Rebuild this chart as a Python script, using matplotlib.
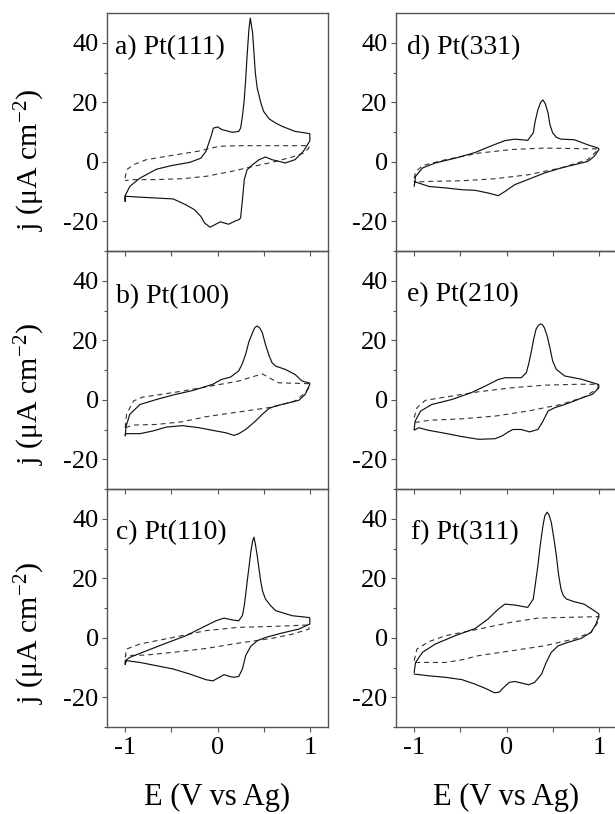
import matplotlib
matplotlib.use("Agg")
import matplotlib.pyplot as plt
from matplotlib.ticker import FixedLocator

plt.rcParams['font.family'] = ['Liberation Serif', 'DejaVu Serif']
plt.rcParams['mathtext.fontset'] = 'custom'
plt.rcParams['mathtext.rm'] = 'Liberation Serif'
plt.rcParams['mathtext.it'] = 'Liberation Serif:italic'
plt.rcParams['axes.unicode_minus'] = False

# ---------------- data ----------------
labels = ["a) Pt(111)", "b) Pt(100)", "c) Pt(110)",
          "d) Pt(331)", "e) Pt(210)", "f) Pt(311)"]
x_label = "E (V vs Ag)"
y_label = "j (\u03bcA cm$^{-2}$)"
y_ticks = [-20, 0, 20, 40]
x_ticks = [-1, 0, 1]

# a) Pt(111)
a_sol_x = [-1.0, -1.0, -0.95, -0.84, -0.66, -0.5, -0.3, -0.18, -0.125, -0.07, -0.045, 0.0, 0.05, 0.16,
           0.23, 0.25, 0.27, 0.29, 0.305, 0.32, 0.34, 0.355, 0.38, 0.395, 0.41, 0.43, 0.47, 0.50,
           0.56, 0.63, 0.70, 0.84, 0.97, 1.0,
           1.0, 0.97, 0.93, 0.84, 0.735, 0.59, 0.52, 0.45, 0.38, 0.32, 0.29, 0.27, 0.25, 0.23, 0.2,
           0.12, 0.03, -0.08, -0.14, -0.18, -0.25, -0.34, -0.48, -0.66, -0.84, -1.0, -1.0]
a_sol_j = [-13.3, -11.4, -8.3, -5.5, -2.5, -1.3, -0.2, 1.2, 3.5, 8.5, 11.3, 11.7, 10.8, 9.9,
           10.2, 11.3, 15.3, 20.9, 27.6, 35.4, 44.4, 48.3, 43.3, 36.6, 29.8, 24.8, 19.7, 16.9,
           14.4, 13.0, 11.9, 10.2, 9.6, 9.4,
           7.0, 5.5, 3.5, 0.7, -0.4, 0.7, 1.6, 0.7, -1.0, -2.7, -6.0, -12.8, -18.9, -19.5, -19.8,
           -21.0, -20.2, -22.0, -20.6, -18.4, -16.1, -14.5, -12.5, -12.2, -11.9, -11.6, -13.3]
a_dash_x = [-1.0, -0.985, -0.91, -0.77, -0.48, -0.2, 0.02, 0.23, 0.59, 0.99,
            0.99, 0.93, 0.81, 0.59, 0.38, 0.16, -0.125, -0.38, -0.66, -0.91, -1.0]
a_dash_j = [-5.5, -2.7, -1.0, 0.7, 2.2, 3.6, 5.2, 5.4, 5.4, 5.4,
            4.6, 2.9, 1.6, -0.2, -1.6, -3.2, -4.9, -5.7, -6.0, -6.0, -6.3]

# b) Pt(100)
b_sol_x = [-1.0, -0.99, -0.95, -0.84, -0.66, -0.48, -0.27, -0.05, 0.04, 0.14, 0.23, 0.27, 0.305,
           0.34, 0.38, 0.405, 0.43, 0.455, 0.485, 0.52, 0.56, 0.59, 0.63, 0.735, 0.84, 0.915,
           0.99, 1.0,
           1.0, 0.95, 0.88, 0.735, 0.63, 0.56, 0.485, 0.41, 0.305, 0.23, 0.18, 0.09, -0.05,
           -0.2, -0.38, -0.555, -0.70, -0.84, -0.985, -1.0]
b_sol_j = [-12.2, -8.9, -4.9, -1.6, 0.1, 1.6, 3.1, 5.2, 6.8, 7.6, 9.7, 12.2, 15.3,
           19.5, 22.6, 24.3, 24.8, 24.2, 22.6, 18.5, 14.7, 12.5, 11.3, 10.2, 8.5, 6.3,
           5.7, 5.5,
           5.2, 1.8, -0.2, -1.3, -2.1, -2.9, -4.9, -7.2, -10.0, -11.4, -12.0, -11.1, -10.3,
           -9.4, -8.7, -9.2, -10.5, -11.4, -11.4, -11.7]
b_dash_x = [-1.0, -0.985, -0.91, -0.81, -0.48, -0.125, 0.23, 0.485, 0.56, 0.66, 0.99,
            0.99, 0.93, 0.84, 0.59, 0.23, -0.125, -0.38, -0.66, -0.91, -1.0]
b_dash_j = [-9.4, -4.9, -0.4, 0.9, 2.4, 4.3, 6.3, 8.7, 7.4, 5.7, 5.4,
            4.0, 1.8, -0.4, -2.5, -4.1, -5.7, -7.4, -8.3, -8.5, -9.4]

# c) Pt(110)
c_sol_x = [-1.0, -1.0, -0.95, -0.77, -0.555, -0.34, -0.16, -0.017, 0.07, 0.16, 0.23, 0.27, 0.29,
           0.305, 0.32, 0.34, 0.36, 0.38, 0.395, 0.41, 0.43, 0.45, 0.47, 0.49, 0.52, 0.575,
           0.63, 0.81, 0.99, 1.0,
           1.0, 0.88, 0.70, 0.52, 0.43, 0.36, 0.305, 0.27, 0.23, 0.18, 0.13, 0.07, 0.02, -0.05,
           -0.125, -0.3, -0.48, -0.66, -0.84, -0.985, -1.0]
c_sol_j = [-8.9, -7.7, -6.6, -4.4, -1.8, 0.7, 3.5, 5.7, 6.6, 6.0, 5.7, 7.5, 10.8,
           14.5, 18.6, 23.5, 28.7, 32.5, 33.8, 31.5, 27.6, 23.0, 18.6, 15.5, 13.0, 10.8,
           9.1, 7.4, 6.8, 6.6,
           4.6, 2.9, 1.6, 0.1, -1.0, -2.9, -6.0, -10.5, -13.0, -13.3, -13.0, -12.4, -13.3, -14.5,
           -14.1, -12.2, -10.5, -9.4, -8.3, -7.7, -8.9]
c_dash_x = [-1.0, -0.985, -0.84, -0.48, -0.125, 0.23, 0.59, 0.99,
            0.99, 0.81, 0.59, 0.23, -0.125, -0.48, -0.77, -1.0]
c_dash_j = [-6.6, -3.8, -2.1, 0.1, 2.4, 3.5, 3.8, 4.3,
            2.9, 1.2, -0.2, -1.8, -3.6, -4.9, -5.8, -6.0]

# d) Pt(331)
d_sol_x = [-1.0, -0.985, -0.91, -0.77, -0.555, -0.34, -0.16, -0.017, 0.09, 0.23, 0.29, 0.31,
           0.34, 0.37, 0.395, 0.42, 0.45, 0.47, 0.50, 0.54, 0.59, 0.735, 0.88, 0.99, 1.0,
           1.0, 0.95, 0.88, 0.735, 0.59, 0.41, 0.23, 0.09, -0.017, -0.09, -0.2, -0.34, -0.48,
           -0.66, -0.84, -0.985, -1.0]
d_sol_j = [-8.3, -4.9, -2.1, -0.4, 1.2, 3.1, 5.4, 7.1, 7.6, 7.2, 9.7, 13.5,
           17.5, 20.0, 20.8, 19.5, 16.4, 12.5, 9.7, 8.2, 7.6, 7.4, 5.7, 4.6, 4.4,
           4.0, 1.8, 0.1, -1.0, -2.1, -3.8, -6.0, -7.7, -10.0, -11.4, -10.5, -9.6, -9.4,
           -8.8, -8.3, -6.8, -6.6]
d_dash_x = [-1.0, -0.985, -0.91, -0.66, -0.30, 0.05, 0.41, 0.99,
            0.99, 0.88, 0.59, 0.23, -0.125, -0.48, -0.84, -1.0]
d_dash_j = [-5.5, -3.5, -1.3, 0.7, 2.9, 4.1, 4.6, 4.3,
            4.0, 0.7, -2.1, -4.4, -5.7, -6.4, -6.6, -6.8]

# e) Pt(210)
e_sol_x = [-1.0, -0.99, -0.93, -0.81, -0.59, -0.38, -0.23, -0.09, -0.017, 0.16, 0.215, 0.24,
           0.27, 0.295, 0.32, 0.345, 0.37, 0.39, 0.41, 0.44, 0.47, 0.50, 0.54, 0.63, 0.81,
           0.99, 1.0,
           1.0, 0.93, 0.84, 0.735, 0.63, 0.52, 0.45, 0.395, 0.34, 0.25, 0.16, 0.07, 0.02, -0.05,
           -0.125, -0.30, -0.48, -0.66, -0.84, -0.95, -1.0]
e_sol_j = [-10.0, -7.2, -3.8, -1.6, 0.1, 2.4, 4.6, 6.8, 7.4, 7.4, 9.1, 12.0,
           16.4, 20.5, 23.7, 25.0, 25.5, 25.2, 24.2, 21.5, 17.5, 13.0, 10.2, 8.0, 6.9,
           5.2, 5.0,
           4.0, 1.8, 0.9, -0.4, -1.6, -2.7, -3.8, -7.2, -10.0, -10.8, -10.0, -10.0, -10.8, -12.2,
           -13.1, -13.3, -12.4, -11.3, -10.3, -9.4, -10.2]
e_dash_x = [-1.0, -0.97, -0.88, -0.66, -0.30, 0.05, 0.41, 0.77, 0.99,
            0.99, 0.84, 0.59, 0.23, -0.125, -0.48, -0.84, -1.0]
e_dash_j = [-6.0, -2.7, -0.2, 0.9, 2.7, 4.0, 4.9, 5.2, 5.2,
            3.8, 0.9, -1.6, -3.8, -5.5, -6.4, -6.9, -7.7]

# f) Pt(311)
f_sol_x = [-1.0, -0.985, -0.91, -0.77, -0.555, -0.34, -0.2, -0.09, -0.017, 0.09, 0.23, 0.29,
           0.31, 0.34, 0.365, 0.395, 0.415, 0.44, 0.46, 0.485, 0.515, 0.54, 0.565, 0.59, 0.615,
           0.65, 0.735, 0.84, 0.95, 1.0,
           1.0, 0.97, 0.915, 0.81, 0.66, 0.56, 0.485, 0.43, 0.38, 0.305, 0.24, 0.16, 0.09, 0.03,
           -0.03, -0.08, -0.13, -0.23, -0.34, -0.48, -0.66, -0.84, -1.0]
f_sol_j = [-11.7, -8.3, -4.9, -2.1, 0.7, 3.1, 6.3, 9.6, 11.3, 11.0, 10.2, 13.0,
           17.5, 24.2, 31.0, 37.7, 41.0, 42.2, 41.3, 38.8, 33.0, 27.6, 21.0, 16.4, 14.2,
           13.0, 12.1, 11.3, 9.1, 8.0,
           7.4, 4.6, 1.8, -0.2, -1.6, -2.7, -4.9, -8.3, -12.2, -15.0, -15.8, -15.2, -14.7, -15.0,
           -16.7, -18.3, -18.5, -17.0, -15.6, -14.1, -13.3, -12.8, -12.2]
f_dash_x = [-1.0, -0.97, -0.84, -0.66, -0.30, 0.05, 0.34, 0.59, 1.0,
            1.0, 0.915, 0.735, 0.41, 0.05, -0.30, -0.48, -0.66, -0.84, -0.985]
f_dash_j = [-7.7, -3.8, -1.3, 0.7, 2.9, 5.2, 6.6, 6.8, 7.1,
            5.7, 1.8, -0.4, -2.7, -4.4, -6.0, -7.4, -8.3, -8.3, -8.3]

solid_x = [a_sol_x, b_sol_x, c_sol_x, d_sol_x, e_sol_x, f_sol_x]
solid_j = [a_sol_j, b_sol_j, c_sol_j, d_sol_j, e_sol_j, f_sol_j]
dash_x = [a_dash_x, b_dash_x, c_dash_x, d_dash_x, e_dash_x, f_dash_x]
dash_j = [a_dash_j, b_dash_j, c_dash_j, d_dash_j, e_dash_j, f_dash_j]

# ---------------- layout ----------------
W, H = 615, 814
fig = plt.figure(figsize=(W / 100, H / 100), dpi=100)

col_left = [106.7, 395.7]
ax_w = 221.6
row_top = [13, 251, 489]
ax_h = 238
label_x = [0.0375, 0.042, 0.042, 0.05, 0.05, 0.068]
label_y = [0.828, 0.783, 0.79, 0.828, 0.79, 0.79]

spine_col = '#555555'
for i in range(6):
    col, row = divmod(i, 3)
    l = col_left[col] / W
    b = 1 - (row_top[row] + ax_h) / H
    ax = fig.add_axes([l, b, ax_w / W, ax_h / H], facecolor='none')
    ax.plot(dash_x[i], dash_j[i], color='#333333', lw=0.8, ls=(0, (4.5, 3.5)))
    ax.plot(solid_x[i], solid_j[i], color='#111111', lw=0.85,
            solid_joinstyle='round', solid_capstyle='round')
    ax.set_xlim(-1.2, 1.2)
    ax.set_ylim(-30, 50)
    ax.yaxis.set_major_locator(FixedLocator(y_ticks))
    ax.yaxis.set_minor_locator(FixedLocator([-30, -10, 10, 30]))
    ax.xaxis.set_major_locator(FixedLocator(x_ticks))
    ax.xaxis.set_minor_locator(FixedLocator([-0.5, 0.5]))
    ax.tick_params(which='major', direction='out', length=3.8, width=0.8, color=spine_col,
                   labelsize=19, pad=2)
    ax.tick_params(which='minor', direction='out', length=2.2, width=0.8, color=spine_col)
    ax.tick_params(axis='x', which='major', length=3.5, pad=4)
    ax.tick_params(axis='x', which='minor', length=3.5)
    for s in ax.spines.values():
        s.set_color(spine_col)
        s.set_linewidth(1.0)
    if row < 2:
        ax.tick_params(axis='x', labelbottom=False)
    ax.text(label_x[i], label_y[i], labels[i], transform=ax.transAxes,
            fontsize=20, ha='left', va='baseline')
    if col == 0:
        yc = [160, 394, 633][row]
        fig.text(30 / W, 1 - yc / H, y_label, rotation=90, fontsize=21.5,
                 ha='center', va='center')

for col in range(2):
    xc = (col_left[col] + ax_w / 2) / W
    fig.text(xc, 1 - 797 / H, x_label, fontsize=22, ha='center', va='center')

fig.savefig('out.png', dpi=100)
